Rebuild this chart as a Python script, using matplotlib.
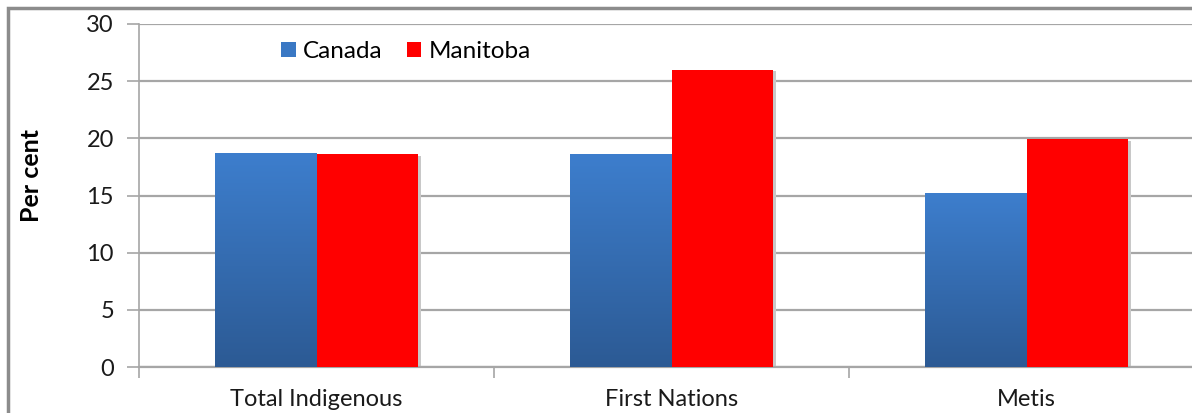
import matplotlib.pyplot as plt
import numpy as np
from matplotlib.patches import Rectangle
from matplotlib.colors import LinearSegmentedColormap

categories = ['Total Indigenous', 'First Nations', 'Metis']
canada = [18.7, 18.6, 15.2]
manitoba = [18.6, 26.0, 19.9]
yticks = [0, 5, 10, 15, 20, 25, 30]

plt.rcParams['font.family'] = ['Lato', 'DejaVu Sans']

W, H = 1192, 413
fig = plt.figure(figsize=(W / 100, H / 100), dpi=100)
left, bottom, top = 139 / W, 1 - 367 / H, 1 - 24 / H
ax = fig.add_axes([left, bottom, 1 - left, top - bottom])

# outer chart frame (partly cut off in the reference)
fig.patches.append(Rectangle((8 / W, -0.1), 1.2, (H - 8) / H + 0.1,
                             transform=fig.transFigure, fill=False,
                             edgecolor='#8c8c8c', linewidth=2.5))

x = np.arange(len(categories))
w = 0.287
bars_c = ax.bar(x - w / 2, canada, w, color='#3a78c4', label='Canada', zorder=3)
bars_m = ax.bar(x + w / 2, manitoba, w, color='#ff0000', label='Manitoba', zorder=3)

# vertical gradient on the Canada bars
grad = np.linspace(0, 1, 256).reshape(-1, 1)
cmap = LinearSegmentedColormap.from_list('blu', ['#2c5a94', '#3d7ecd'])
for b in bars_c:
    bx, by = b.get_x(), b.get_y()
    bw, bh = b.get_width(), b.get_height()
    im = ax.imshow(grad, extent=[bx, bx + bw, by, by + bh], origin='lower',
                   cmap=cmap, aspect='auto', zorder=3.5)
    im.set_clip_path(b)

# light shadow behind bars
for b in list(bars_c) + list(bars_m):
    ax.add_patch(Rectangle((b.get_x() + 0.006, 0), b.get_width(), b.get_height() - 0.15,
                           facecolor='#c8c8c8', edgecolor='none', zorder=2.5))

ax.set_yticks(yticks)
ax.yaxis.grid(True, color='#a6a6a6', linewidth=1.6, zorder=1)
ax.set_axisbelow(True)

ax.set_xticks(x)
ax.set_xticklabels(categories, fontsize=17, color='#1a1a1a')
ax.set_xticks(np.arange(len(categories) + 1) - 0.5, minor=True)
ax.tick_params(axis='x', which='major', length=0, pad=16)
ax.tick_params(axis='x', which='minor', length=8, color='#a6a6a6', width=1.2)
ax.tick_params(axis='y', length=9, color='#a6a6a6', width=1.2, labelsize=17,
               labelcolor='#1a1a1a', pad=9)

ax.set_xlim(-0.5, (W - 139) / 355 - 0.5)
ax.set_ylim(0, 30)

for s in ['top', 'right']:
    ax.spines[s].set_visible(False)
ax.spines['left'].set_color('#a6a6a6')
ax.spines['left'].set_linewidth(1.2)
ax.spines['bottom'].set_color('#a6a6a6')
ax.spines['bottom'].set_linewidth(1.6)

ax.set_ylabel('Per cent', fontsize=18, fontweight='bold')
ax.yaxis.set_label_coords((43 - 139) / (W - 139), (367 - 176) / 343)

leg = ax.legend(loc='upper left', bbox_to_anchor=((281 - 139) / (W - 139), (367 - 41) / 343),
                ncol=2, frameon=False, fontsize=17.5, handlelength=0.6, handleheight=0.6,
                columnspacing=1.0, handletextpad=0.3, borderpad=0, borderaxespad=0)

fig.savefig('out.png', dpi=100)
